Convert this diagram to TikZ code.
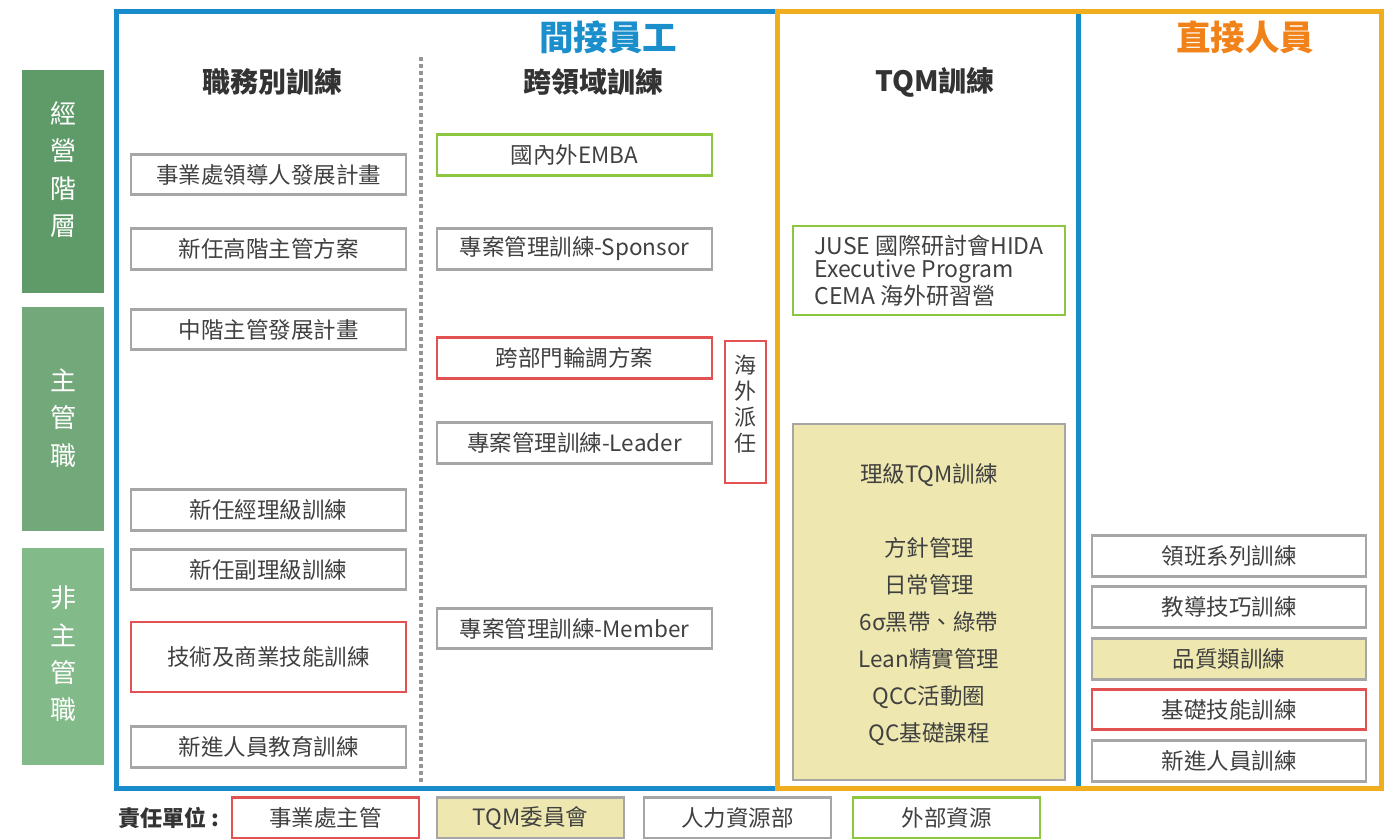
\documentclass[tikz,border=0pt]{standalone}
\usepackage{fontspec}
\setmainfont{Noto Sans CJK TC}
\definecolor{txt}{RGB}{64,64,64}
\definecolor{hdrtxt}{RGB}{51,51,51}
\definecolor{fblue}{RGB}{24,140,202}
\definecolor{forange}{RGB}{240,174,30}
\definecolor{tblue}{RGB}{27,142,204}
\definecolor{torange}{RGB}{240,130,25}
\definecolor{bgray}{RGB}{166,166,166}
\definecolor{dgray}{RGB}{150,150,150}
\definecolor{rred}{RGB}{226,82,82}
\definecolor{ggreen}{RGB}{141,198,63}
\definecolor{yfill}{RGB}{238,232,176}
\definecolor{gdark}{RGB}{95,155,104}
\definecolor{gmid}{RGB}{115,169,122}
\definecolor{glight}{RGB}{131,186,137}
\tikzset{
  base/.style={inner sep=0pt, text=txt, font=\fontsize{22.5}{26}\selectfont},
  gb/.style={base, draw=bgray, line width=2.6pt},
  rb/.style={base, draw=rred, line width=2.6pt},
  grb/.style={base, draw=ggreen, line width=2.6pt},
  yb/.style={gb, fill=yfill},
  colL/.style={minimum width=275pt, minimum height=40.5pt},
  colR/.style={minimum width=274pt, minimum height=40.5pt},
  leg/.style={minimum width=187pt, minimum height=41pt},
  lvl/.style={inner sep=0pt, minimum width=82pt},
  lvltext/.style={inner sep=0pt, text=white, align=center,
              font=\fontsize{26}{37.3}\selectfont},
  hdr/.style={inner sep=0pt, text=hdrtxt, font=\bfseries\fontsize{28}{30}\selectfont},
  ttl/.style={inner sep=0pt, font=\bfseries\fontsize{34.5}{36}\selectfont},
}
\begin{document}
\begin{tikzpicture}[x=1pt,y=-1pt]
\useasboundingbox (0,0) rectangle (1400,838);

% frames
\draw[fblue, line width=5pt] (116,11) rectangle (1078.5,788);
\draw[forange, line width=5pt] (777.5,11) rectangle (1381.5,788.5);
\draw[fblue, line width=5pt] (1078.5,13.5) -- (1078.5,786);

% titles
\node[ttl, text=tblue] (t1) at (608,37) {間接員工};
\node[ttl, text=torange] (t2) at (1245,37) {直接人員};

% column headers
\node[hdr] (h1) at (272,82) {職務別訓練};
\node[hdr] (h2) at (593,82) {跨領域訓練};
\node[hdr] (h3) at (935,82) {TQM訓練};

% dotted separator
\coordinate (s1) at (421,57);
\coordinate (s2) at (421,782);
\draw[dgray, line width=3.6pt, dash pattern=on 3.5pt off 3.5pt] (s1) -- (s2);

% level labels
\node[lvl, fill=gdark, minimum height=223pt] (v1) at (63,181.5) {};
\node[lvltext] (v1t) at (63,169.5) {經\\營\\階\\層};
\node[lvl, fill=gmid, minimum height=224pt] (v2) at (63,419) {};
\node[lvltext] (v2t) at (63,418) {主\\管\\職};
\node[lvl, fill=glight, minimum height=217pt] (v3) at (63,656.5) {};
\node[lvltext] (v3t) at (63,654) {非\\主\\管\\職};

% left column
\node[gb, colL] (l1) at (268.5,174.5) {事業處領導人發展計畫};
\node[gb, colL] (l2) at (268.5,249) {新任高階主管方案};
\node[gb, colL] (l3) at (268.5,329.5) {中階主管發展計畫};
\node[gb, colL] (l4) at (268.5,510) {新任經理級訓練};
\node[gb, colL] (l5) at (268.5,569.5) {新任副理級訓練};
\node[rb, colL, minimum height=70pt] (l6) at (268.5,657) {技術及商業技能訓練};
\node[gb, colL] (l7) at (268.5,747) {新進人員教育訓練};

% middle column
\node[grb, colL] (m1) at (574.5,155) {國內外EMBA};
\node[gb, colL] (m2) at (574.5,249) {專案管理訓練-Sponsor};
\node[rb, colL] (m3) at (574.5,358) {跨部門輪調方案};
\node[gb, colL] (m4) at (574.5,443) {專案管理訓練-Leader};
\node[gb, colL] (m5) at (574.5,628.5) {專案管理訓練-Member};
\node[rb, minimum width=41pt, minimum height=142pt] (m6) at (745.5,412) {};
\node[base, align=center, font=\fontsize{22}{26}\selectfont] (m6t) at (745.5,404.5) {海\\外\\派\\任};

% TQM column
\node[grb, minimum width=272pt, minimum height=89pt, align=left,
      font=\fontsize{23}{23.5}\selectfont] (q1) at (929,270.5)
  {JUSE 國際研討會HIDA\\Executive Program\\CEMA 海外研習營};
\node[yb, minimum width=272pt, minimum height=356pt] (q2) at (929,602) {};
\node[base, align=center, font=\fontsize{22.5}{37}\selectfont] (q2t) at (929,605)
  {理級TQM訓練\\[37pt]方針管理\\日常管理\\6σ黑帶、綠帶\\Lean精實管理\\QCC活動圈\\QC基礎課程};

% right column
\node[gb, colR] (r1) at (1229,556) {領班系列訓練};
\node[gb, colR] (r2) at (1229,607) {教導技巧訓練};
\node[yb, colR] (r3) at (1229,659) {品質類訓練};
\node[rb, colR] (r4) at (1229,709.5) {基礎技能訓練};
\node[gb, colR] (r5) at (1229,761) {新進人員訓練};

% legend
\node[inner sep=0pt, text=hdrtxt, font=\bfseries\fontsize{22}{25}\selectfont] (lg0) at (169,818) {責任單位 :};
\node[rb, leg] (lg1) at (325.5,818) {事業處主管};
\node[yb, leg] (lg2) at (530.5,818) {TQM委員會};
\node[gb, leg] (lg3) at (737.5,818) {人力資源部};
\node[grb, leg] (lg4) at (946.5,818) {外部資源};
\end{tikzpicture}
\end{document}
